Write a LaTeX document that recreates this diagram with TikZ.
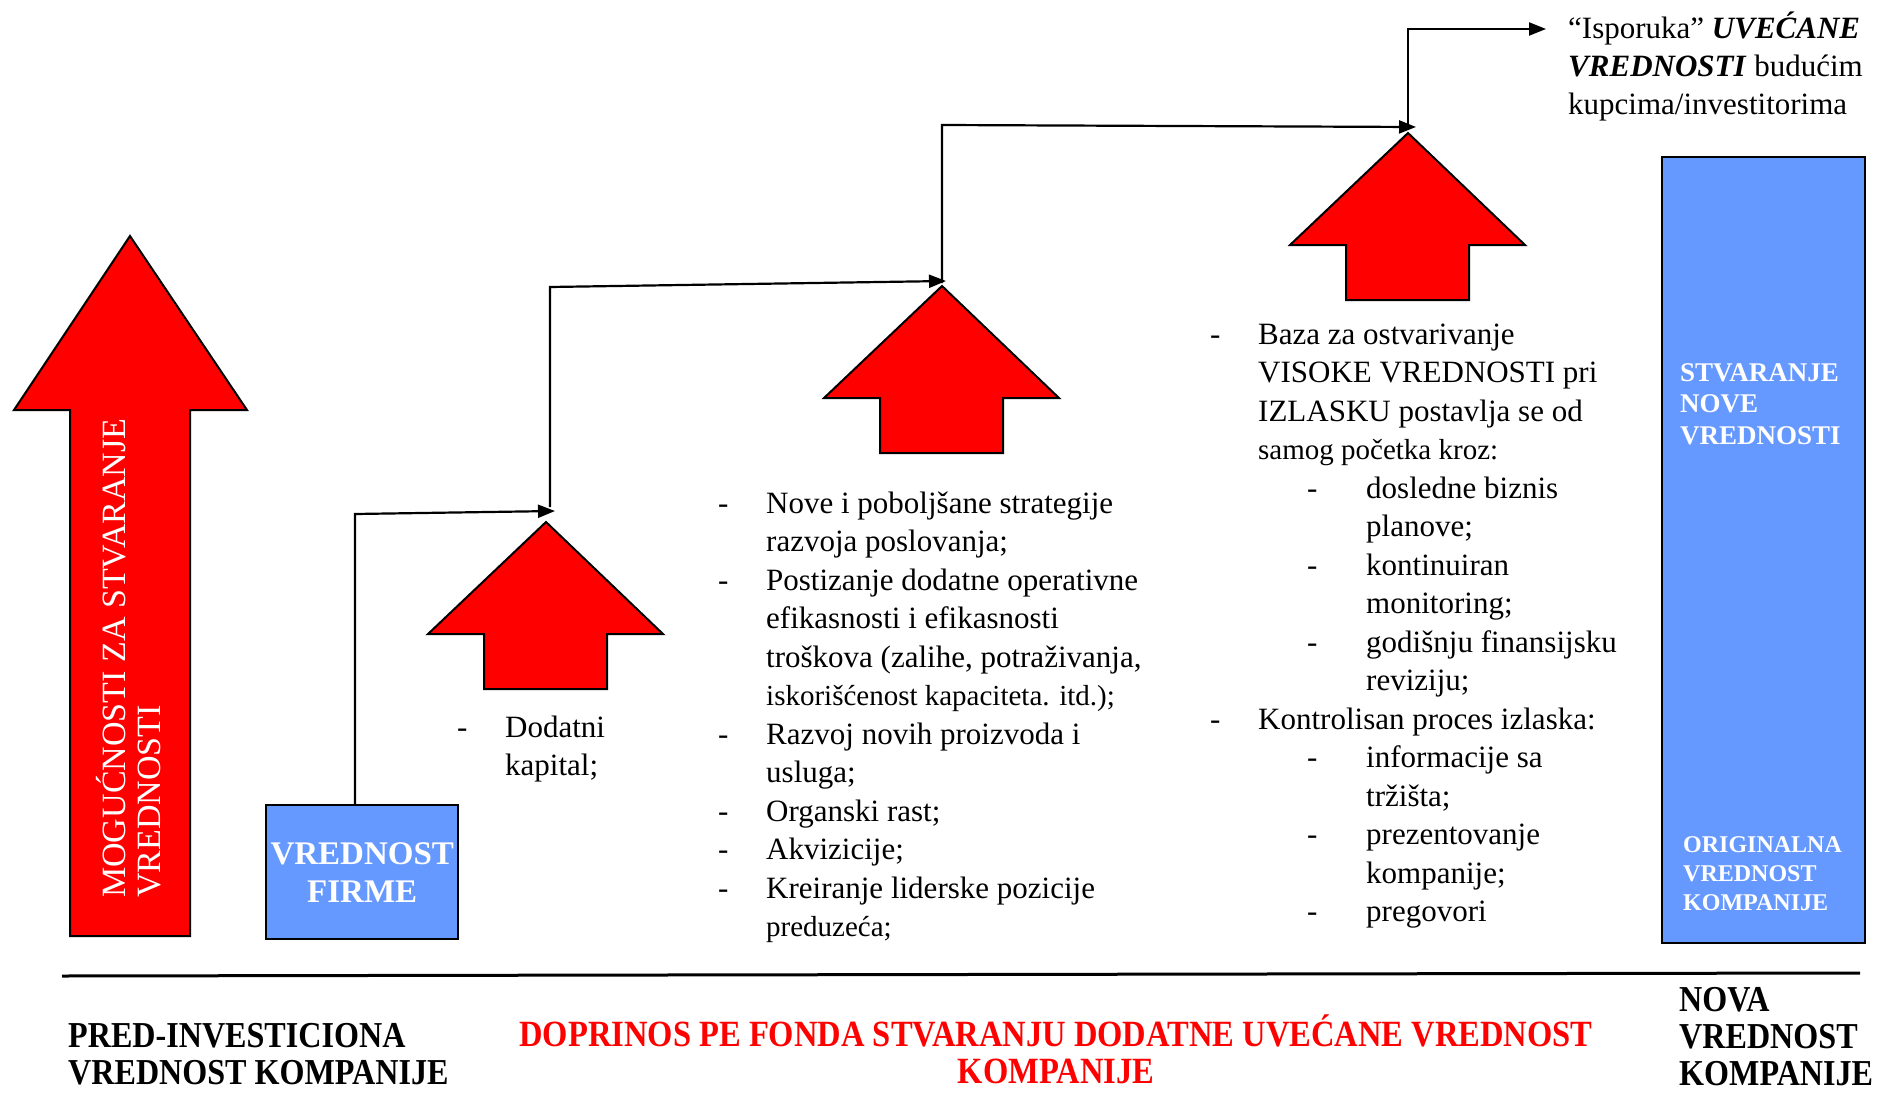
\documentclass[tikz,border=0pt]{standalone}
\usepackage{fontspec}
\setmainfont{Liberation Serif}
\newfontfamily\condfont{Liberation Serif}[FakeStretch=0.88]
\usetikzlibrary{arrows.meta}
\definecolor{boxblue}{RGB}{102,153,255}
\newcommand\dsh[1]{\makebox[#1][l]{-}}
\newcommand\gap[1]{\makebox[#1]{}}
\newcommand\sml{\fontsize{29}{38.5}\selectfont}
\newcommand\tstrut{\rule{0pt}{30pt}}
\begin{document}
\begin{tikzpicture}[x=1pt,y=-1pt,
  redarrow/.style={fill=red, draw=black, line width=2pt, line join=miter},
  conn/.style={draw=black, line width=2.2pt, -{Triangle[length=17pt,width=13pt]}},
  bluebox/.style={fill=boxblue, draw=black, line width=2.4pt, inner sep=0pt},
  txt/.style={inner sep=0pt, anchor=north west, align=left, font=\fontsize{31}{38.5}\selectfont},
  bottomlbl/.style={inner sep=0pt, align=left, anchor=base west, font=\condfont\bfseries\fontsize{36.5}{37}\selectfont}]
\useasboundingbox (0,0) rectangle (1881,1094);

% big arrow
\draw[redarrow] (130,236) -- (247,410) -- (190,410) -- (190,936) -- (70,936) -- (70,410) -- (14,410) -- cycle;
\node[rotate=90, anchor=north west, inner sep=0pt, align=left, text=white,
  font=\fontsize{34}{35}\selectfont] (bigtxt) at (95,898) {\tstrut MOGUĆNOSTI ZA STVARANJE\\VREDNOSTI};

% small block arrows
\coordinate (a1) at (546,522);
\coordinate (a2) at (942,286);
\coordinate (a3) at (1408,133);
\foreach \t in {a1,a2,a3}{
  \draw[redarrow] (\t) -- ++(117,112) -- ++(-56,0) -- ++(0,55) -- ++(-123,0) -- ++(0,-55) -- ++(-56,0) -- cycle;
}

% VREDNOST FIRME
\node[bluebox, anchor=north west, minimum width=192pt, minimum height=134pt, align=center,
  text=white, font=\bfseries\fontsize{33}{38}\selectfont] (firme) at (265,804) {VREDNOST\\FIRME};

% connectors
\coordinate (k1) at (355,514);
\coordinate (e1) at (555,511);
\draw[conn] (firme.north -| k1) -- (k1) -- (e1);
\coordinate (s2) at (550,507);
\coordinate (k2) at (550,287);
\coordinate (e2) at (946,281);
\draw[conn] (s2) -- (k2) -- (e2);
\coordinate (s3) at (942,283);
\coordinate (k3) at (942,125);
\coordinate (e3) at (1416,127);
\draw[conn] (s3) -- (k3) -- (e3);
\coordinate (s4) at (1408,127);
\coordinate (k4) at (1408,29);
\coordinate (e4) at (1546,29);
\draw[conn] (s4) -- (k4) -- (e4);

% top-right text
\node[txt, font=\fontsize{31}{38}\selectfont] (deliv) at (1568,8)
  {\tstrut “Isporuka” \textbf{\textit{UVEĆANE}}\\\textbf{\textit{VREDNOSTI}} budućim\\kupcima/investitorima};

% right blue box
\node[bluebox, anchor=north west, minimum width=203pt, minimum height=786pt] (newval) at (1661,156) {};
\node[inner sep=0pt, anchor=north west, align=left, text=white, font=\bfseries\fontsize{27}{31.5}\selectfont]
  (stv) at (1680,351) {\tstrut STVARANJE\\NOVE\\VREDNOSTI};
\node[inner sep=0pt, anchor=north west, align=left, text=white, font=\bfseries\fontsize{24}{29}\selectfont]
  (orig) at (1683,822) {\tstrut ORIGINALNA\\VREDNOST\\KOMPANIJE};

% text lists
\node[txt] (list1) at (457,707) {\tstrut\dsh{48pt}Dodatni\\\gap{48pt}kapital;};
\node[txt] (list2) at (718,483) {\tstrut\dsh{48pt}Nove i poboljšane strategije\\
\gap{48pt}razvoja poslovanja;\\
\dsh{48pt}Postizanje dodatne operativne\\
\gap{48pt}efikasnosti i efikasnosti\\
\gap{48pt}troškova (zalihe, potraživanja,\\
\gap{48pt}{\sml iskorišćenost kapaciteta. itd.);}\\
\dsh{48pt}Razvoj novih proizvoda i\\
\gap{48pt}usluga;\\
\dsh{48pt}Organski rast;\\
\dsh{48pt}Akvizicije;\\
\dsh{48pt}Kreiranje liderske pozicije\\
\gap{48pt}{\sml preduzeća;}};
\node[txt] (list3) at (1210,314) {\tstrut\dsh{48pt}Baza za ostvarivanje\\
\gap{48pt}VISOKE VREDNOSTI pri\\
\gap{48pt}IZLASKU postavlja se od\\
\gap{48pt}{\sml samog početka kroz:}\\
\gap{97pt}\dsh{59pt}dosledne biznis\\
\gap{156pt}planove;\\
\gap{97pt}\dsh{59pt}kontinuiran\\
\gap{156pt}monitoring;\\
\gap{97pt}\dsh{59pt}godišnju finansijsku\\
\gap{156pt}reviziju;\\
\dsh{48pt}Kontrolisan proces izlaska:\\
\gap{97pt}\dsh{59pt}informacije sa\\
\gap{156pt}tržišta;\\
\gap{97pt}\dsh{59pt}prezentovanje\\
\gap{156pt}kompanije;\\
\gap{97pt}\dsh{59pt}pregovori};

% baseline rule
\coordinate (r1) at (62,976);
\coordinate (r2) at (1860,973);
\draw[line width=3pt] (r1) -- (r2);

% bottom labels (anchored at the baseline of their last line)
\node[bottomlbl] (pred) at (68,1084) {PRED-INVESTICIONA\\VREDNOST KOMPANIJE};
\node[bottomlbl, anchor=base, align=center, text=red, font=\condfont\bfseries\fontsize{37}{37}\selectfont]
  (contrib) at (1056,1083) {DOPRINOS PE FONDA STVARANJU DODATNE UVEĆANE VREDNOST\\KOMPANIJE};
\node[bottomlbl] (nova) at (1679,1085) {NOVA\\VREDNOST\\KOMPANIJE};
\end{tikzpicture}
\end{document}
